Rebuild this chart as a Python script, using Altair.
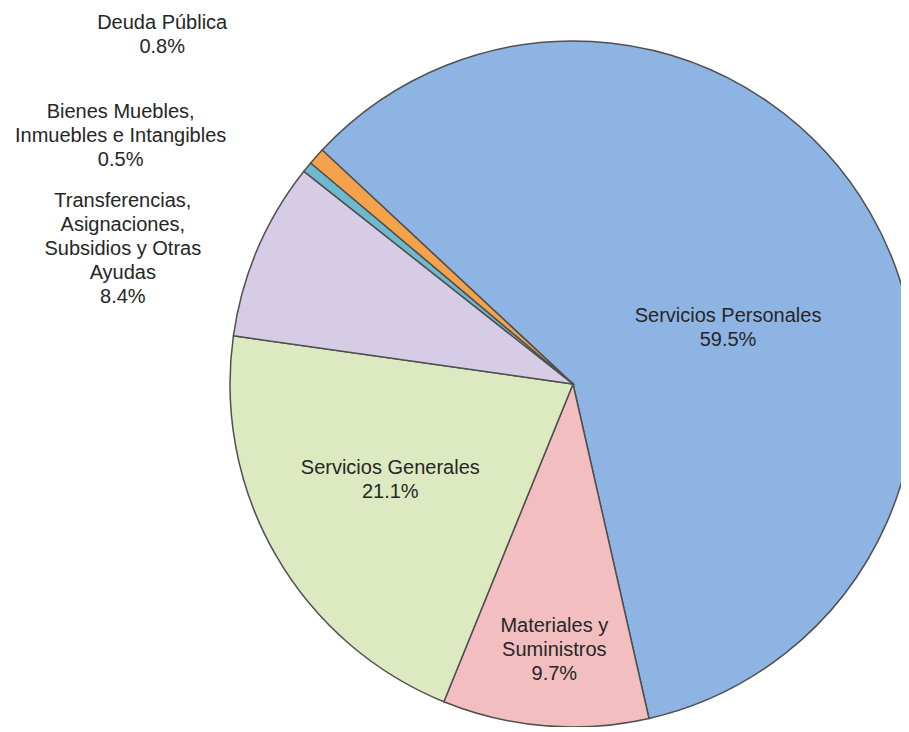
import math
import altair as alt
import pandas as pd

# ---- data (clockwise from the upper-left boundary) ----
categories = [
    "Servicios Personales",
    "Materiales y Suministros",
    "Servicios Generales",
    "Transferencias, Asignaciones, Subsidios y Otras Ayudas",
    "Bienes Muebles, Inmuebles e Intangibles",
    "Deuda Pública",
]
label_names = [
    "Servicios Personales",
    "Materiales y\nSuministros",
    "Servicios  Generales",
    "Transferencias,\nAsignaciones,\nSubsidios  y Otras\nAyudas",
    "Bienes Muebles,\nInmuebles  e Intangibles",
    "Deuda  Pública",
]
percentages = [59.5, 9.7, 21.1, 8.4, 0.5, 0.8]
colors = ["#8EB4E3", "#F2BEC0", "#DDEAC1", "#D6CCE6", "#6FB9CF", "#F4A24C"]

df = pd.DataFrame({
    "idx": list(range(len(categories))),
    "cat": categories,
    "pct": percentages,
    "label": [f"{n}\n{p:.1f}%" for n, p in zip(label_names, percentages)],
})

start = math.radians(313)
R = 343

base = alt.Chart(df).encode(
    theta=alt.Theta("pct:Q", stack=True,
                    scale=alt.Scale(range=[start, start + 2 * math.pi])),
    order=alt.Order("idx:Q", sort="ascending"),
)

arcs = base.mark_arc(outerRadius=R, stroke="#505050", strokeWidth=1.5).encode(
    color=alt.Color("cat:N", scale=alt.Scale(domain=categories, range=colors),
                    legend=None)
)

# label placement (radius along the slice's mid-angle plus small nudges)
placements = [
    (165, 12, 20),
    (230, 0, 19),
    (205, -5, -12),
    (480, -9, 12),
    (500, -65, 50),
    (545, -3, 7),
]

layers = [arcs]
for i, (rad, dx, dy) in enumerate(placements):
    layers.append(
        base.mark_text(
            radius=rad, dx=dx, dy=dy, fontSize=20, lineHeight=24,
            font="Liberation Sans", align="center", baseline="alphabetic",
            lineBreak="\n", color="#262626",
        ).encode(
            text=alt.condition(f"datum.idx == {i}", "label:N", alt.value(""))
        )
    )

chart = alt.layer(*layers).properties(
    width=656, height=672,
    padding={"left": 237, "top": 40, "right": 0, "bottom": 7},
    autosize=alt.AutoSizeParams(type="none"),
    background="white",
).configure_view(stroke=None)

chart.save("out.html", embed_options={"renderer": "svg", "actions": False})
